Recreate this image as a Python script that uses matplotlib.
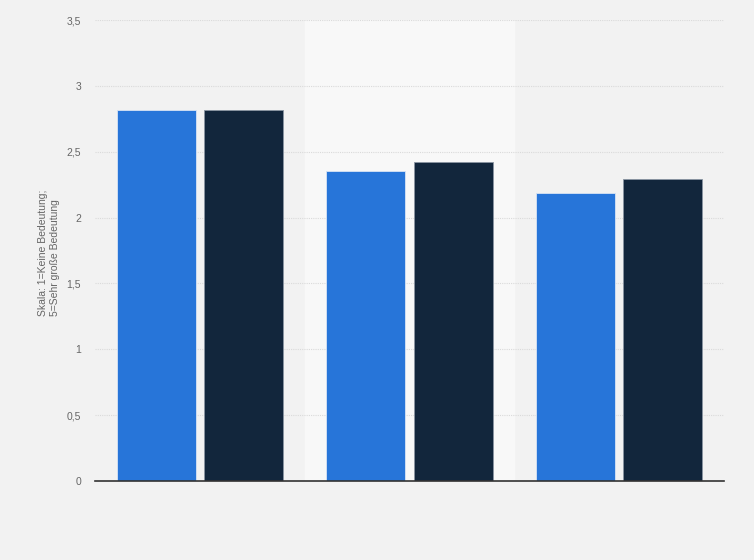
import matplotlib.pyplot as plt
from matplotlib.ticker import FixedLocator, FixedFormatter
import numpy as np

plt.rcParams['font.family'] = ['Liberation Sans', 'DejaVu Sans']

categories = ["", "", ""]
series_a = [2.82, 2.35, 2.19]
series_b = [2.82, 2.42, 2.29]
yticks = [0, 0.5, 1, 1.5, 2, 2.5, 3, 3.5]
ytick_labels = ["0", "0,5", "1", "1,5", "2", "2,5", "3", "3,5"]

BG = "#f2f2f2"

fig = plt.figure(figsize=(7.54, 5.6), dpi=100, facecolor=BG)
ax = fig.add_axes([95 / 754, 79 / 560, 629 / 754, 461 / 560])
ax.set_facecolor(BG)

x = np.arange(len(categories))
w = 0.377
off = 0.2085

# lighter band behind the middle group
ax.axvspan(0.5, 1.5, color="#f8f8f8", zorder=0)

ax.bar(x - off, series_a, width=w, color="#2775d9", edgecolor="#d8e4f4", linewidth=0.6, zorder=3)
ax.bar(x + off, series_b, width=w, color="#12263c", edgecolor="#8a95a2", linewidth=0.6, zorder=3)

ax.set_xlim(-0.5, 2.5)
ax.set_ylim(0, 3.5)
ax.set_xticks([])

ax.grid(axis="y", color="#dadada", linestyle=(0, (1, 1)), linewidth=0.8, zorder=1)
ax.set_axisbelow(True)

for s in ["top", "right", "left"]:
    ax.spines[s].set_visible(False)
ax.spines["bottom"].set_color("#333333")
ax.spines["bottom"].set_linewidth(1.2)
ax.spines["bottom"].set_zorder(4)

ax.set_ylabel("Skala: 1=Keine Bedeutung;\n5=Sehr große Bedeutung", fontsize=7.5,
              color="#666666", linespacing=1.35, multialignment="left")
ax.yaxis.set_label_coords(-0.055, 0.495)

ax.yaxis.set_major_locator(FixedLocator(yticks))
ax.yaxis.set_major_formatter(FixedFormatter(ytick_labels))
ax.tick_params(axis="y", length=0, pad=10, labelsize=7.5, labelcolor="#666666")

fig.savefig("out.png", dpi=100, facecolor=BG)
